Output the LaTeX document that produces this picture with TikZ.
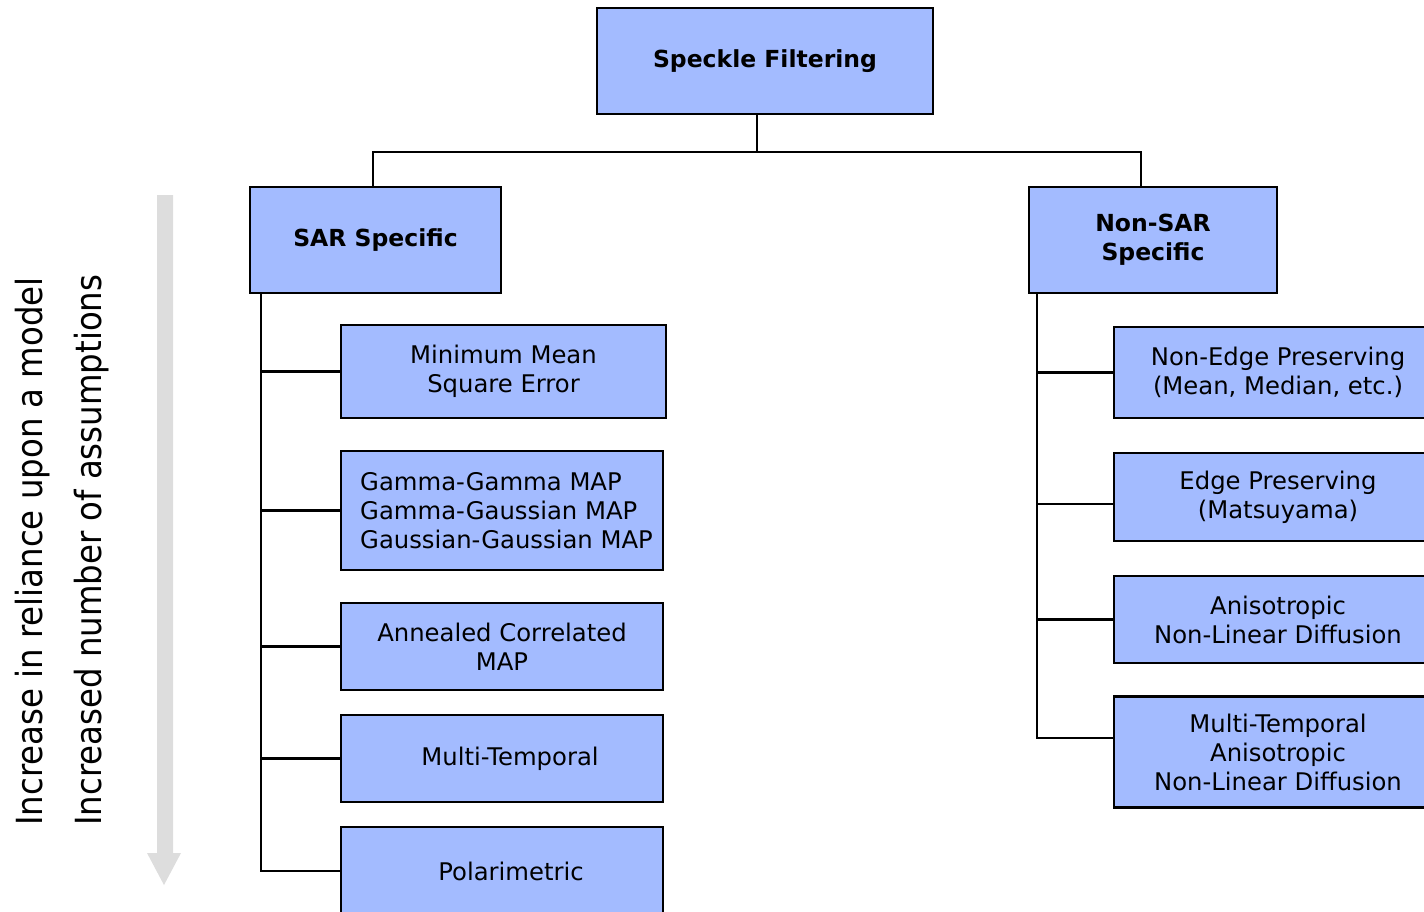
\documentclass[tikz,border=0pt]{standalone}
\usepackage{fontspec}
\setmainfont{DejaVu Sans}
\newfontfamily\condfont{DejaVu Sans Condensed}
\definecolor{boxblue}{RGB}{163,187,255}
\definecolor{arrgray}{RGB}{221,221,221}
\begin{document}
\begin{tikzpicture}[x=1pt,y=-1pt,
  box/.style={draw=black,line width=2.5pt,fill=boxblue,align=center,inner sep=0pt,
    font=\fontsize{24.3}{29}\selectfont},
  bbox/.style={box,font=\fontsize{23.5}{29}\selectfont\bfseries},
  conn/.style={line width=2.5pt}]
\useasboundingbox (0,0) rectangle (1424,911);
\clip (0,0) rectangle (1424,911);
% side arrow
\fill[arrgray] (157,195) -- (173,195) -- (173,853) -- (181,853) -- (164,885) -- (147,853) -- (157,853) -- cycle;
\node[rotate=90,anchor=base west,inner sep=0pt,font=\condfont\fontsize{36}{40}\selectfont] (t1) at (42,826) {Increase in reliance upon a model};
\node[rotate=90,anchor=base west,inner sep=0pt,font=\condfont\fontsize{36}{40}\selectfont] (t2) at (101,826) {Increased number of assumptions};
% top
\node[bbox,minimum width=336pt,minimum height=106pt] (top) at (765,61) {\raisebox{-2pt}{Speckle Filtering}};
\node[bbox,minimum width=251pt,minimum height=106pt] (sar) at (375.5,240) {\raisebox{-2pt}{SAR Specific}};
\node[bbox,minimum width=248pt,minimum height=106pt] (nsar) at (1153,240) {Non-SAR\\Specific};
\coordinate (bus) at (757,152);
\coordinate (lx) at (373,152);
\coordinate (rx) at (1141,152);
\draw[conn] (top.south -| bus) -- (bus);
\draw[conn] (sar.north -| lx) -- (lx) -- (rx) -- (nsar.north -| rx);
% left children
\node[box,minimum width=325pt,minimum height=93pt] (l1) at (503.5,371.5) {Minimum Mean\\Square Error};
\node[box,minimum width=322pt,minimum height=119pt] (l2) at (502,510.5) {};
\node[anchor=west,align=left,inner sep=0pt,font=\fontsize{24.3}{29}\selectfont] (l2t) at (360,511) {Gamma-Gamma MAP\\Gamma-Gaussian MAP\\Gaussian-Gaussian MAP};
\node[box,minimum width=322pt,minimum height=87pt] (l3) at (502,646.5) {Annealed Correlated\\MAP};
\node[box,minimum width=322pt,minimum height=87pt] (l4) at (502,758.5) {\hspace{16pt}Multi-Temporal};
\node[box,minimum width=322pt,minimum height=88pt] (l5) at (502,871) {\hspace{18pt}Polarimetric};
\coordinate (ls) at (261,293);
\draw[conn] (sar.south -| ls) |- (l5.west);
\foreach \n in {l1,l2,l3,l4} \draw[conn] (ls |- \n.west) -- (\n.west);
% right children
\node[box,minimum width=328pt,minimum height=91pt] (r1) at (1278,372.5) {Non-Edge Preserving\\(Mean, Median, etc.)};
\node[box,minimum width=328pt,minimum height=88pt] (r2) at (1278,497) {Edge Preserving\\(Matsuyama)};
\node[box,minimum width=328pt,minimum height=87pt] (r3) at (1278,619.5) {Anisotropic\\Non-Linear Diffusion};
\node[box,minimum width=328pt,minimum height=111pt] (r4) at (1278,752) {Multi-Temporal\\Anisotropic\\Non-Linear Diffusion};
\coordinate (r2w) at ([yshift=-7pt]r2.west);
\coordinate (r4w) at ([yshift=14pt]r4.west);
\coordinate (rs) at (1037,293);
\draw[conn] (nsar.south -| rs) |- (r4w);
\draw[conn] (rs |- r1.west) -- (r1.west);
\draw[conn] (rs |- r2w) -- (r2w);
\draw[conn] (rs |- r3.west) -- (r3.west);
\end{tikzpicture}
\end{document}
